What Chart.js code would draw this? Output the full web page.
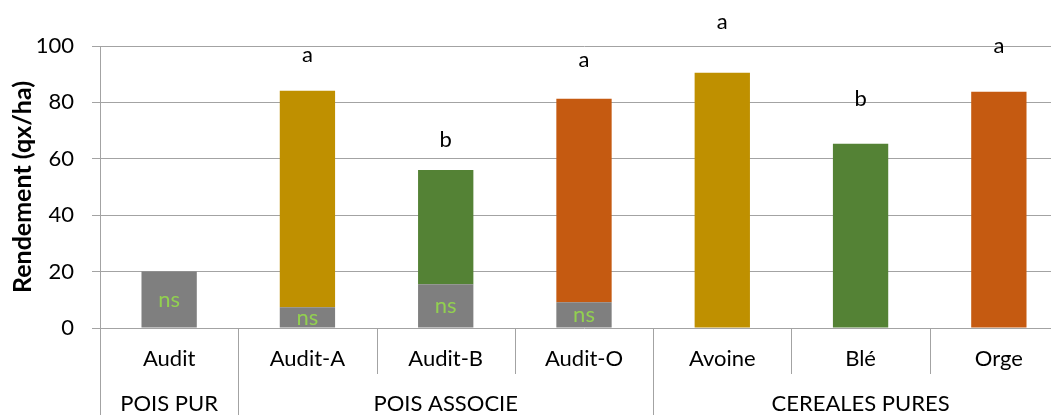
<!DOCTYPE html>
<html>
<head>
<meta charset="utf-8">
<script src="https://cdn.jsdelivr.net/npm/chart.js@4"></script>
<style>
html, body { margin: 0; padding: 0; background: #fff; overflow: hidden; }
#wrap { width: 1068px; height: 415px; }
</style>
</head>
<body>
<div id="wrap"><canvas id="chart" width="1068" height="415"></canvas></div>
<script>
// données
var categories = ['Audit', 'Audit-A', 'Audit-B', 'Audit-O', 'Avoine', 'Blé', 'Orge'];
var groupNames = ['POIS PUR', 'POIS ASSOCIE', 'CEREALES PURES'];
var groupSizes = [1, 3, 3];
var pois = [20, 7.4, 15.5, 9.1, null, null, null];
var cereale = [null, 76.7, 40.5, 72.2, 90.5, 65.3, 83.8];
var poisLabels = ['ns', 'ns', 'ns', 'ns', '', '', ''];
var letters = ['', 'a', 'b', 'a', 'a', 'b', 'a'];
var letterLevels = [null, 96.9, 66.7, 95.1, 108.6, 81.3, 100.1];
var yTicks = [0, 20, 40, 60, 80, 100];

var gridColor = '#a3a3a3';
var cerealeColors = ['#bf9000', '#bf9000', '#548235', '#c55a11', '#bf9000', '#548235', '#c55a11'];
var font = 'Lato';

Chart.defaults.color = '#000';
Chart.defaults.font.family = font;

// axe des catégories à deux niveaux, lettres et "ns"
var annotations = {
    id: 'annotations',
    afterDraw: function (chart) {
        var ctx = chart.ctx;
        var x = chart.scales.x;
        var y = chart.scales.y;
        var area = chart.chartArea;
        var half = (x.getPixelForValue(1) - x.getPixelForValue(0)) / 2;

        var longLines = [0];
        var acc = 0;
        groupSizes.forEach(function (n) { acc += n; longLines.push(acc); });

        ctx.save();
        ctx.strokeStyle = gridColor;
        ctx.lineWidth = 1;
        for (var i = 0; i <= categories.length; i++) {
            var px = Math.round(x.getPixelForValue(i) - half) + 0.5;
            var bottom = longLines.indexOf(i) >= 0 ? chart.height : 374;
            ctx.beginPath();
            ctx.moveTo(px, area.bottom);
            ctx.lineTo(px, bottom);
            ctx.stroke();
        }

        ctx.fillStyle = '#000';
        ctx.font = '22px ' + font;
        ctx.textAlign = 'center';
        ctx.textBaseline = 'middle';
        var start = 0;
        groupNames.forEach(function (g, k) {
            var cx = (x.getPixelForValue(start) + x.getPixelForValue(start + groupSizes[k] - 1)) / 2;
            ctx.fillText(g, cx, 404);
            start += groupSizes[k];
        });

        letters.forEach(function (l, i) {
            if (!l) return;
            ctx.fillText(l, x.getPixelForValue(i), y.getPixelForValue(letterLevels[i]));
        });

        ctx.fillStyle = '#92d050';
        poisLabels.forEach(function (l, i) {
            if (!l) return;
            ctx.fillText(l, x.getPixelForValue(i), y.getPixelForValue(pois[i] / 2));
        });
        ctx.restore();
    }
};

new Chart(document.getElementById('chart'), {
    type: 'bar',
    data: {
        labels: categories,
        datasets: [
            {
                label: 'Pois',
                data: pois,
                backgroundColor: '#7f7f7f',
                barPercentage: 0.4,
                categoryPercentage: 1
            },
            {
                label: 'Céréale',
                data: cereale,
                backgroundColor: cerealeColors,
                barPercentage: 0.4,
                categoryPercentage: 1
            }
        ]
    },
    options: {
        responsive: false,
        animation: false,
        layout: { padding: { top: 46, right: 0, left: 0, bottom: 0 } },
        plugins: {
            legend: { display: false },
            tooltip: { enabled: false }
        },
        scales: {
            x: {
                stacked: true,
                grid: { display: false, drawTicks: false },
                border: { display: false },
                ticks: { font: { size: 22 }, padding: 18, maxRotation: 0 },
                afterFit: function (s) { s.height = 87; }
            },
            y: {
                stacked: true,
                min: 0,
                max: 100,
                afterBuildTicks: function (s) { s.ticks = yTicks.map(function (v) { return { value: v }; }); },
                grid: { color: gridColor, tickLength: 8 },
                border: { display: true, color: gridColor },
                ticks: { font: { size: 22 }, padding: 18 },
                title: {
                    display: true,
                    text: 'Rendement (qx/ha)',
                    font: { size: 25, weight: 'bold' },
                    padding: { top: 8, bottom: 0 }
                },
                afterFit: function (s) { s.width = 100; }
            }
        }
    },
    plugins: [annotations]
});
</script>
</body>
</html>
